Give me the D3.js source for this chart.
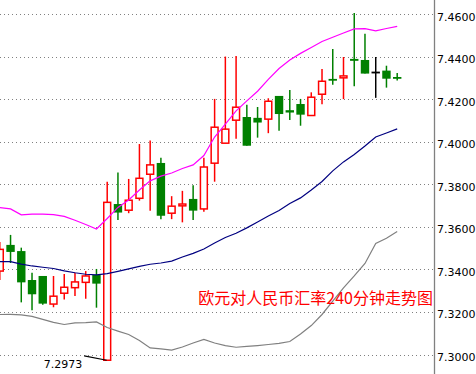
<!DOCTYPE html>
<html>
<head>
<meta charset="utf-8">
<script src="https://cdn.jsdelivr.net/npm/d3@7"></script>
<style>
  body { margin: 0; background: #fff; }
  svg { display: block; }
</style>
</head>
<body>
<svg width="476" height="374"></svg>
<script>
// EUR/CNY 240-minute candles, oldest first
var open  = [7.3392, 7.3515, 7.3486, 7.3350, 7.3369, 7.3237, 7.3288, 7.3314, 7.3339, 7.3374,
             7.2973, 7.3707, 7.3678, 7.3734, 7.3847, 7.3900, 7.3664, 7.3706, 7.3731, 7.3684,
             7.3899, 7.3993, 7.4101, 7.4116, 7.4112, 7.4106, 7.4215, 7.4148, 7.4177, 7.4123,
             7.4223, 7.4295, 7.4300, 7.4389, 7.4384, 7.4325, 7.4334, 7.4304];
var high  = [7.3529, 7.3562, 7.3502, 7.3384, 7.3369, 7.3369, 7.3378, 7.3384, 7.3392, 7.3402,
             7.3812, 7.3855, 7.3825, 7.3989, 7.4005, 7.3925, 7.3744, 7.3769, 7.3795, 7.3925,
             7.4201, 7.4400, 7.4403, 7.4173, 7.4163, 7.4204, 7.4215, 7.4243, 7.4201, 7.4232,
             7.4341, 7.4436, 7.4398, 7.4605, 7.4507, 7.4398, 7.4357, 7.4323];
var low   = [7.3350, 7.3430, 7.3245, 7.3208, 7.3234, 7.3222, 7.3259, 7.3275, 7.3262, 7.3220,
             7.2973, 7.3632, 7.3664, 7.3723, 7.3676, 7.3636, 7.3636, 7.3621, 7.3632, 7.3671,
             7.3812, 7.3993, 7.4014, 7.3981, 7.4019, 7.4040, 7.4051, 7.4102, 7.4075, 7.4123,
             7.4176, 7.4268, 7.4200, 7.4261, 7.4320, 7.4206, 7.4254, 7.4287];
var close = [7.3494, 7.3482, 7.3339, 7.3283, 7.3239, 7.3274, 7.3316, 7.3341, 7.3369, 7.3333,
             7.3715, 7.3667, 7.3725, 7.3828, 7.3891, 7.3652, 7.3697, 7.3707, 7.3676, 7.3881,
             7.4068, 7.4059, 7.4162, 7.3981, 7.4090, 7.4190, 7.4130, 7.4137, 7.4127, 7.4209,
             7.4284, 7.4287, 7.4309, 7.4380, 7.4320, 7.4325, 7.4296, 7.4303];

// bollinger bands as drawn
var upper  = [7.3690, 7.3684, 7.3656, 7.3660, 7.3660, 7.3657, 7.3649, 7.3631, 7.3611, 7.3590,
              7.3639, 7.3691, 7.3726, 7.3773, 7.3816, 7.3838, 7.3853, 7.3874, 7.3891, 7.3935,
              7.4022, 7.4083, 7.4145, 7.4192, 7.4237, 7.4293, 7.4344, 7.4384, 7.4415, 7.4443,
              7.4471, 7.4491, 7.4511, 7.4530, 7.4531, 7.4521, 7.4532, 7.4542];
var middle = [7.3436, 7.3436, 7.3425, 7.3416, 7.3410, 7.3404, 7.3393, 7.3384, 7.3377, 7.3374,
              7.3380, 7.3391, 7.3402, 7.3414, 7.3424, 7.3430, 7.3439, 7.3458, 7.3475, 7.3496,
              7.3524, 7.3550, 7.3570, 7.3595, 7.3623, 7.3651, 7.3677, 7.3710, 7.3736, 7.3773,
              7.3813, 7.3863, 7.3905, 7.3940, 7.3980, 7.4022, 7.4041, 7.4060];
var lower  = [7.3188, 7.3189, 7.3186, 7.3179, 7.3165, 7.3151, 7.3141, 7.3149, 7.3150, 7.3153,
              7.3127, 7.3110, 7.3094, 7.3066, 7.3031, 7.3026, 7.3021, 7.3035, 7.3054, 7.3071,
              7.3054, 7.3042, 7.3034, 7.3038, 7.3042, 7.3047, 7.3052, 7.3061, 7.3096, 7.3136,
              7.3188, 7.3251, 7.3313, 7.3369, 7.3428, 7.3522, 7.3546, 7.3578];

var priceTicks = [7.30, 7.32, 7.34, 7.36, 7.38, 7.40, 7.42, 7.44, 7.46];
var title = "欧元对人民币汇率240分钟走势图";

var svg = d3.select("svg");
var height = +svg.attr("height");
var axisX = 434;
var half = 4.2;

var x = d3.scaleLinear().domain([0, open.length - 1]).range([-0.2, 397.2]);
var y = d3.scaleLinear().domain([7.30, 7.46]).range([354.5, 14]);
var fmt = d3.format(".4f");

var candles = open.map(function(o, i) {
  return { i: i, open: o, high: high[i], low: low[i], close: close[i] };
});

function color(d) {
  if (d.close > d.open) return "#ff0000";
  if (d.close < d.open) return "#008000";
  return "#000000";
}

// dotted grid
svg.append("g")
  .selectAll("line")
  .data(priceTicks)
  .enter().append("line")
    .attr("x1", 0)
    .attr("x2", axisX)
    .attr("y1", function(d) { return Math.round(y(d)) + 0.5; })
    .attr("y2", function(d) { return Math.round(y(d)) + 0.5; })
    .style("stroke", "#808080")
    .style("stroke-dasharray", "1,3");

// price axis on the right
var axis = svg.append("g")
    .attr("transform", "translate(" + axisX + ",0)")
    .call(d3.axisRight(y).tickValues(priceTicks).tickFormat(fmt).tickSize(0).tickPadding(3));
axis.select(".domain").remove();
axis.selectAll("text")
    .attr("y", 2.5)
    .style("font-family", "DejaVu Sans")
    .style("font-size", "11px")
    .style("fill", "#000");
svg.append("line")
    .attr("x1", axisX + 0.5).attr("x2", axisX + 0.5)
    .attr("y1", 0).attr("y2", height)
    .style("stroke", "#808080")
    .style("stroke-width", 1.3);

// candles
var candle = svg.append("g")
  .selectAll("g")
  .data(candles)
  .enter().append("g");

candle.append("line")
    .attr("x1", function(d) { return x(d.i); })
    .attr("x2", function(d) { return x(d.i); })
    .attr("y1", function(d) { return y(d.high); })
    .attr("y2", function(d) { return y(d.low); })
    .style("stroke", color)
    .style("stroke-width", 1.5);

candle.filter(function(d) { return d.close !== d.open; })
  .append("rect")
    .attr("x", function(d) { return d.close > d.open ? x(d.i) - half + 0.75 : x(d.i) - half; })
    .attr("width", function(d) { return d.close > d.open ? half * 2 - 1.5 : half * 2; })
    .attr("y", function(d) { return y(Math.max(d.open, d.close)); })
    .attr("height", function(d) { return Math.max(1.8, Math.abs(y(d.open) - y(d.close))); })
    .style("fill", function(d) { return d.close > d.open ? "#fff" : "#008000"; })
    .style("stroke", function(d) { return d.close > d.open ? "#ff0000" : "none"; })
    .style("stroke-width", 1.5);

candle.filter(function(d) { return d.close === d.open; })
  .append("line")
    .attr("x1", function(d) { return x(d.i) - half; })
    .attr("x2", function(d) { return x(d.i) + half; })
    .attr("y1", function(d) { return y(d.open); })
    .attr("y2", function(d) { return y(d.open); })
    .style("stroke", color)
    .style("stroke-width", 1.8);

// bands
var bandLine = d3.line()
    .x(function(d, i) { return x(i); })
    .y(function(d) { return y(d); });

[[upper, "#ff00ff"], [middle, "#000080"], [lower, "#808080"]].forEach(function(b) {
  svg.append("path")
      .attr("d", bandLine(b[0]))
      .style("fill", "none")
      .style("stroke", b[1])
      .style("stroke-width", 1.2);
});

// lowest price marker
var minIdx = d3.minIndex(low);
var mx = x(minIdx), my = y(low[minIdx]);
svg.append("line")
    .attr("x1", mx - 23).attr("y1", my - 4.3)
    .attr("x2", mx - 0.5).attr("y2", my)
    .style("stroke", "#000")
    .style("stroke-width", 1.2);
svg.append("text")
    .attr("x", mx - 25)
    .attr("y", my + 8)
    .attr("text-anchor", "end")
    .style("font-family", "DejaVu Sans")
    .style("font-size", "11px")
    .text(fmt(low[minIdx]));

// caption
svg.append("text")
    .attr("x", axisX - 1)
    .attr("y", 304)
    .attr("text-anchor", "end")
    .style("font-family", "Noto Sans CJK SC")
    .style("font-size", "16px")
    .style("fill", "#ff0000")
    .text(title);
</script>
</body>
</html>
